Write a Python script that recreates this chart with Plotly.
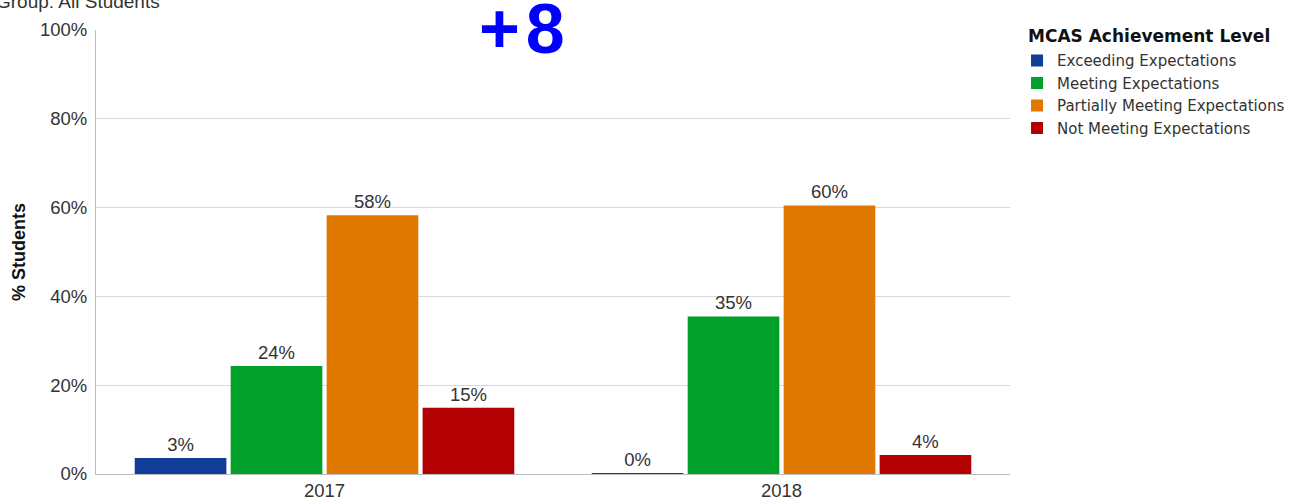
import plotly.graph_objects as go

years = ["2017", "2018"]
series_names = ["Exceeding Expectations", "Meeting Expectations",
                "Partially Meeting Expectations", "Not Meeting Expectations"]
exceeding = [3.6, 0.2]
meeting = [24.3, 35.5]
partially = [58.3, 60.5]
not_meeting = [14.9, 4.3]
exceeding_lbl = ["3%", "0%"]
meeting_lbl = ["24%", "35%"]
partially_lbl = ["58%", "60%"]
not_meeting_lbl = ["15%", "4%"]
colors = ["#0f3d97", "#00a02a", "#e07800", "#b30000"]
y_ticks = [0, 20, 40, 60, 80, 100]
y_tick_labels = ["0%", "20%", "40%", "60%", "80%", "100%"]

values = [exceeding, meeting, partially, not_meeting]
labels = [exceeding_lbl, meeting_lbl, partially_lbl, not_meeting_lbl]

ARIAL = "Liberation Sans, Arial, sans-serif"
WIDE = "DejaVu Sans, sans-serif"

fig = go.Figure()
for name, vals, lbls, col in zip(series_names, values, labels, colors):
    fig.add_trace(go.Bar(
        x=years, y=vals, name=name, marker=dict(color=col, line=dict(width=0)),
        text=lbls, textposition="outside", cliponaxis=False,
        textfont=dict(size=18.5, color="#333333", family=ARIAL),
    ))

fig.update_layout(
    width=1311, height=502,
    margin=dict(l=96, r=301, t=30, b=28),
    plot_bgcolor="white", paper_bgcolor="white",
    font=dict(family=ARIAL, size=18, color="#333333"),
    barmode="group", bargap=0.16, bargroupgap=0.045,
    showlegend=True,
    legend=dict(
        x=1.0077, y=0.968, xanchor="left", yanchor="top",
        font=dict(size=15, color="#333333", family=WIDE),
        tracegroupgap=0, itemwidth=30, bgcolor="rgba(0,0,0,0)",
    ),
    yaxis=dict(
        range=[0, 100], tickvals=y_ticks, ticktext=y_tick_labels,
        showgrid=True, gridcolor="#d9d9d9", gridwidth=1,
        showline=True, linecolor="#bdbdbd", linewidth=1,
        zeroline=False, ticks="", ticklen=0, automargin=False,
        ticklabelstandoff=4,
        tickfont=dict(size=18.5, color="#333333", family=ARIAL),
        title=dict(text="<b>% Students</b>", font=dict(size=18, color="#111111", family=ARIAL), standoff=9),
    ),
    xaxis=dict(
        showline=True, linecolor="#bdbdbd", linewidth=1, automargin=False,
        ticks="", tickfont=dict(size=18.5, color="#333333", family=ARIAL),
    ),
)

fig.add_annotation(
    text="<b>MCAS Achievement Level</b>", xref="paper", yref="paper",
    x=(1026 - 96) / 914, y=1.0, xanchor="left", yanchor="middle", yshift=-6,
    showarrow=False, font=dict(size=17, color="#111111", family=WIDE),
)
fig.add_annotation(
    text="Group: All Students", xref="paper", yref="paper",
    x=-0.1116, y=1.0, xanchor="left", yanchor="bottom", yshift=16,
    showarrow=False, font=dict(size=19, color="#333333", family=ARIAL),
)
fig.add_annotation(
    text="<b>+\u200a8</b>", xref="paper", yref="paper",
    x=0.4665, y=1.0, xanchor="center", yanchor="middle", yshift=1,
    showarrow=False, font=dict(size=70, color="#0000ff", family=ARIAL),
)

fig.write_html("out.html", config={"displayModeBar": False},
               post_script="document.body.style.margin='0px';")
